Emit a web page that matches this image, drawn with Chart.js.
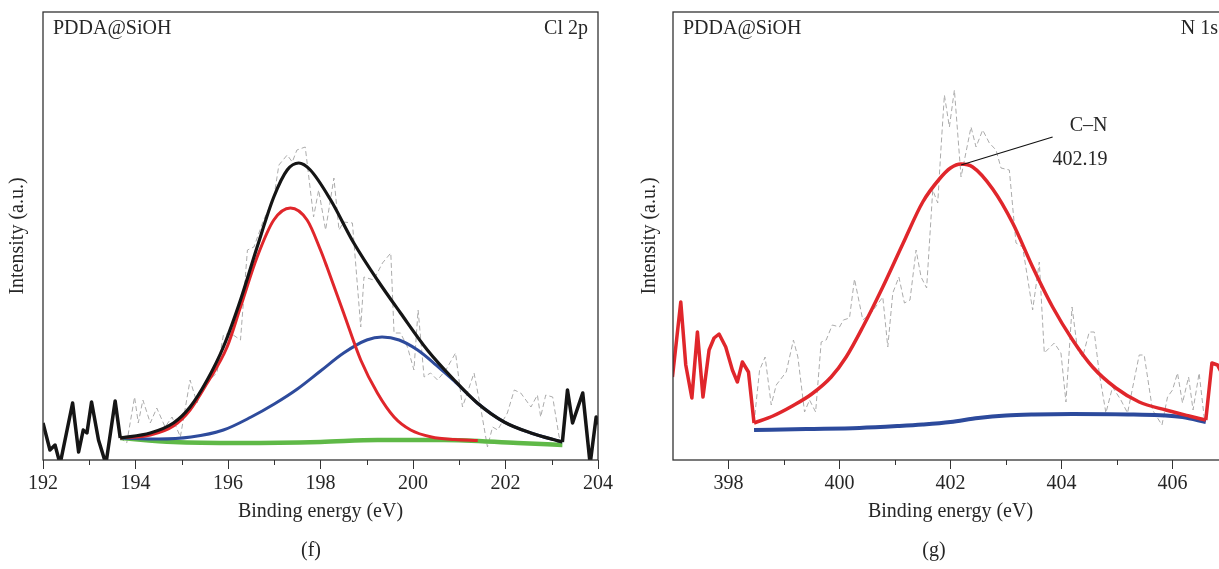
<!DOCTYPE html>
<html><head><meta charset="utf-8">
<script src="https://cdn.jsdelivr.net/npm/chart.js@4.4.0/dist/chart.umd.min.js"></script>
<style>
html,body{margin:0;padding:0;background:#fff;overflow:hidden;width:1219px;height:569px;}
#wrap{position:relative;width:1219px;height:569px;overflow:hidden;}
#c1{position:absolute;left:0;top:0;}
#c2{position:absolute;left:610px;top:0;}
</style></head><body>
<div id="wrap"><canvas id="c1" width="640" height="569"></canvas><canvas id="c2" width="660" height="569"></canvas></div>
<script>
// ---------- Panel (f): Cl 2p ----------
const clMajorTicks = [192, 194, 196, 198, 200, 202, 204];
const clMinorTicks = [193, 195, 197, 199, 201, 203];

const clRawLeftE = [192.0, 192.15, 192.26, 192.37, 192.64, 192.77, 192.87, 192.95, 193.05, 193.2, 193.36, 193.56, 193.67];
const clRawLeftI = [37, 10, 15, -4, 57, 8, 30, 27, 58, 20, -4, 59, 22];
const clRawRightE = [203.23, 203.34, 203.45, 203.67, 203.83, 203.96, 204.05];
const clRawRightI = [18, 70, 37, 67, -4, 43, 33];

const clEnvE = [193.67, 194.32, 194.82, 195.18, 195.55, 195.9, 196.27, 196.63, 196.99, 197.28, 197.53, 197.78, 198.22, 198.72, 199.23, 199.73, 200.31, 200.89, 201.39, 201.97, 202.55, 203.23];
const clEnvI = [22, 27, 37, 53, 80, 113, 160, 213, 263, 290, 297, 290, 260, 217, 180, 147, 110, 80, 57, 38, 27, 18];

const clRedE = [193.67, 194.32, 194.82, 195.18, 195.55, 195.98, 196.27, 196.63, 196.99, 197.35, 197.71, 198.0, 198.14, 198.5, 198.87, 199.23, 199.59, 199.95, 200.4, 200.9, 201.4];
const clRedI = [22, 25, 34, 50, 77, 113, 153, 203, 240, 252, 240, 210, 193, 147, 100, 67, 43, 30, 23, 20.5, 19.5];

const clBlueE = [193.67, 194.5, 195.2, 195.9, 196.5, 197.0, 197.5, 198.0, 198.5, 199.0, 199.33, 199.7, 200.1, 200.5, 200.89, 201.39, 201.97, 202.55, 203.23];
const clBlueI = [22, 21, 23, 30, 43, 56, 71, 89, 107, 120, 123, 120, 110, 95, 79, 57, 38, 27, 18];

const clGreenE = [193.67, 194.82, 196.27, 198.0, 199.23, 200.67, 202.26, 203.23];
const clGreenI = [22, 18, 17, 18, 20, 20, 17, 15];

const clRawE = [193.67, 193.81, 193.98, 194.06, 194.16, 194.32, 194.46, 194.64, 194.79, 194.97, 195.18, 195.33, 195.47, 195.76, 195.9, 196.05, 196.27, 196.42, 196.56, 196.77, 196.99, 197.1, 197.28, 197.39, 197.49, 197.67, 197.85, 197.96, 198.11, 198.29, 198.4, 198.5, 198.69, 198.87, 198.94, 199.15, 199.34, 199.52, 199.59, 199.73, 199.88, 200.02, 200.11, 200.24, 200.38, 200.53, 200.71, 200.92, 201.07, 201.32, 201.46, 201.61, 201.72, 201.83, 202.04, 202.19, 202.33, 202.55, 202.69, 202.76, 202.87, 203.02, 203.16, 203.23];
const clRawI = [22, 17, 63, 37, 60, 37, 52, 33, 43, 23, 80, 57, 75, 87, 125, 127, 120, 210, 213, 240, 262, 295, 305, 298, 310, 313, 243, 270, 230, 282, 230, 238, 237, 133, 183, 180, 197, 207, 127, 127, 113, 90, 150, 83, 87, 80, 90, 107, 53, 87, 53, 13, 33, 30, 47, 70, 67, 53, 65, 43, 65, 63, 23, 18];

// ---------- Panel (g): N 1s ----------
const nMajorTicks = [398, 400, 402, 404, 406];
const nMinorTicks = [399, 401, 403, 405];

const nRawLeftE = [396.99, 397.14, 397.23, 397.34, 397.44, 397.54, 397.65, 397.74, 397.83, 397.95, 398.07, 398.16, 398.25, 398.36, 398.46];
const nRawLeftI = [83, 158, 95, 62, 128, 63, 110, 122, 126, 113, 90, 78, 98, 88, 37];
const nRawRightE = [406.6, 406.71, 406.81, 406.95];
const nRawRightI = [40, 97, 95, 80];

const nFitE = [398.46, 398.8, 399.15, 399.5, 399.85, 400.12, 400.42, 400.78, 401.14, 401.5, 401.8, 402.0, 402.19, 402.4, 402.76, 403.12, 403.48, 403.84, 404.2, 404.56, 404.98, 405.4, 405.88, 406.3, 406.6];
const nFitI = [37, 44, 54, 66, 83, 103, 133, 173, 216, 258, 281, 292, 296, 293, 271, 237, 193, 153, 120, 93, 72, 58, 50, 44, 40];

const nBaseE = [398.46, 399.4, 400.36, 401.08, 401.5, 402.0, 402.5, 403.0, 403.5, 404.2, 405.3, 406.18, 406.6];
const nBaseI = [30, 31, 32, 34, 35.5, 38, 42, 44.5, 45.5, 46, 45.5, 43, 38];

const nRawE = [398.46, 398.56, 398.66, 398.77, 398.86, 399.04, 399.17, 399.25, 399.37, 399.46, 399.57, 399.67, 399.76, 399.87, 400.0, 400.07, 400.18, 400.27, 400.42, 400.57, 400.78, 400.87, 400.96, 401.07, 401.17, 401.27, 401.38, 401.47, 401.57, 401.68, 401.77, 401.83, 401.89, 401.98, 402.07, 402.19, 402.37, 402.46, 402.58, 402.7, 402.82, 402.91, 403.06, 403.18, 403.3, 403.48, 403.6, 403.69, 403.87, 403.99, 404.08, 404.19, 404.29, 404.38, 404.5, 404.59, 404.68, 404.8, 404.92, 405.07, 405.19, 405.4, 405.49, 405.64, 405.81, 405.91, 406.0, 406.09, 406.18, 406.29, 406.37, 406.48, 406.57, 406.6];
const nRawI = [37, 90, 103, 55, 75, 88, 120, 103, 48, 60, 48, 118, 120, 135, 133, 140, 142, 181, 140, 147, 163, 113, 167, 183, 157, 160, 210, 183, 172, 270, 257, 313, 365, 333, 370, 283, 333, 313, 330, 317, 310, 292, 290, 217, 213, 150, 198, 107, 117, 107, 58, 153, 110, 103, 128, 128, 87, 47, 73, 60, 47, 105, 105, 50, 35, 63, 70, 87, 57, 83, 50, 87, 43, 40];

// annotation (peak label) anchor values
const cnLeaderE = [402.19, 403.84];
const cnLeaderI = [295, 323];
const cnLabels = ['C\u2013N', '402.19'];
const cnLabelE = [404.83, 404.83];
const cnLabelI = [334, 300];

// ---------- drawing ----------
const FONT = "'Liberation Serif', 'Times New Roman', serif";
const TXT = '#262626';
const xy = (E, I) => E.map((e, i) => ({x: e, y: I[i]}));

const fitLine = (data, color, w) => ({data, borderColor: color, borderWidth: w, pointRadius: 0, tension: 0.4, cubicInterpolationMode: 'monotone', fill: false});
const rawLine = (data, color, w, dash) => ({data, borderColor: color, borderWidth: w, pointRadius: 0, tension: 0, fill: false, borderDash: dash || [], borderJoinStyle: 'round'});

const decor = {
  id: 'decor',
  afterDraw(chart, args, o) {
    const {ctx, chartArea: a, scales: {x, y}} = chart;
    ctx.save();
    ctx.strokeStyle = '#333';
    ctx.lineWidth = 1.3;
    ctx.strokeRect(a.left, a.top, a.right - a.left, a.bottom - a.top);
    ctx.beginPath();
    ctx.lineWidth = 1;
    o.minor.forEach(v => {
      const px = Math.round(x.getPixelForValue(v)) + 0.5;
      ctx.moveTo(px, a.bottom); ctx.lineTo(px, a.bottom + 5);
    });
    ctx.stroke();
    ctx.fillStyle = TXT;
    ctx.font = '20px ' + FONT;
    ctx.textBaseline = 'middle';
    ctx.textAlign = 'left'; ctx.fillText(o.sample, a.left + 10, a.top + 17);
    ctx.textAlign = 'right'; ctx.fillText(o.region, a.right - 10, a.top + 17);
    ctx.textAlign = 'center'; ctx.fillText(o.panel, o.panelX, 551);
    (o.notes || []).forEach(n => {
      ctx.textAlign = 'right';
      ctx.fillText(n.t, x.getPixelForValue(n.e), y.getPixelForValue(n.i));
    });
    ctx.restore();
  }
};

function makeChart(id, datasets, xmin, xmax, major, leftW, yTitlePad, opts) {
  return new Chart(document.getElementById(id), {
    type: 'line',
    data: {datasets},
    options: {
      responsive: false, animation: false, devicePixelRatio: 1,
      layout: {padding: {left: 0, top: 12, right: 42, bottom: 0}},
      plugins: {legend: {display: false}, tooltip: {enabled: false}, decor: opts},
      scales: {
        x: {
          type: 'linear', min: xmin, max: xmax,
          afterBuildTicks: s => { s.ticks = major.map(v => ({value: v})); },
          afterFit: s => { s.height = 109; },
          border: {display: false},
          grid: {display: true, drawOnChartArea: false, drawTicks: true, tickLength: 9, tickColor: '#333', tickWidth: 1},
          ticks: {color: TXT, font: {family: FONT, size: 20}, padding: 3, maxRotation: 0, autoSkip: false, callback: v => String(v)},
          title: {display: true, text: 'Binding energy (eV)', color: TXT, font: {family: FONT, size: 20}, padding: {top: 0, bottom: 45}}
        },
        y: {
          min: 0, max: 448,
          afterFit: s => { s.width = leftW; },
          border: {display: false},
          grid: {display: false},
          ticks: {display: false},
          title: {display: true, text: 'Intensity (a.u.)', color: TXT, font: {family: FONT, size: 20}, padding: {top: yTitlePad, bottom: 0}}
        }
      }
    },
    plugins: [decor]
  });
}

makeChart('c1', [
  rawLine(xy(clRawLeftE, clRawLeftI), '#151515', 3.5),
  rawLine(xy(clRawRightE, clRawRightI), '#151515', 3.5),
  fitLine(xy(clEnvE, clEnvI), '#151515', 3.2),
  fitLine(xy(clRedE, clRedI), '#e0262b', 3),
  fitLine(xy(clBlueE, clBlueI), '#2e4b9c', 3),
  fitLine(xy(clGreenE, clGreenI), '#5fb947', 4.5),
  rawLine(xy(clRawE, clRawI), '#ababab', 1, [5, 3])
], 192, 204, clMajorTicks, 43, 6,
  {minor: clMinorTicks, sample: 'PDDA@SiOH', region: 'Cl 2p', panel: '(f)', panelX: 311});

makeChart('c2', [
  rawLine(xy(cnLeaderE, cnLeaderI), '#111', 1.2),
  rawLine(xy(nRawLeftE, nRawLeftI), '#e0262b', 3.5),
  rawLine(xy(nRawRightE, nRawRightI), '#e0262b', 3.5),
  fitLine(xy(nFitE, nFitI), '#e0262b', 3.5),
  fitLine(xy(nBaseE, nBaseI), '#2c4a9c', 4),
  rawLine(xy(nRawE, nRawI), '#ababab', 1, [5, 3])
], 397, 407, nMajorTicks, 63, 28,
  {minor: nMinorTicks, sample: 'PDDA@SiOH', region: 'N 1s', panel: '(g)', panelX: 324,
   notes: cnLabels.map((t, i) => ({t, e: cnLabelE[i], i: cnLabelI[i]}))});
</script>
</body></html>
